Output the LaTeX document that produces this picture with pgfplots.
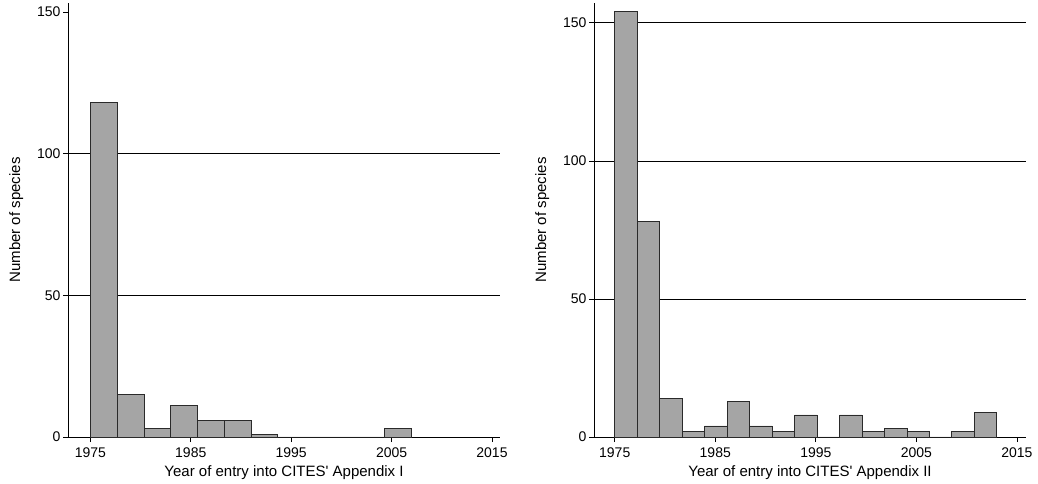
\documentclass[border=0pt]{standalone}
\usepackage{pgfplots}
\pgfplotsset{compat=1.18}
\usepackage{fontspec}
\setmainfont{Liberation Sans}

\definecolor{barfill}{HTML}{A5A5A5}
\definecolor{baredge}{HTML}{2A2A2A}

% Histogram bins: Appendix I uses 12 bins of 32/12 years, Appendix II 17 bins of 38/17 years, both from 1975
\pgfplotstableread{
x count
1975.0000 118
1977.6667 15
1980.3333 3
1983.0000 11
1985.6667 6
1988.3333 6
1991.0000 1
1993.6667 0
1996.3333 0
1999.0000 0
2001.6667 0
2004.3333 3
2007.0000 0
}\appI

\pgfplotstableread{
x count
1975.0000 154
1977.2353 78
1979.4706 14
1981.7059 2
1983.9412 4
1986.1765 13
1988.4118 4
1990.6471 2
1992.8824 8
1995.1176 0
1997.3529 8
1999.5882 2
2001.8235 3
2004.0588 2
2006.2941 0
2008.5294 2
2010.7647 9
2013.0000 0
}\appII

\pgfplotsset{
  histstyle/.style={
    scale only axis,
    width=432bp, height=434bp,
    axis lines*=left,
    axis line style={black, line width=0.8bp, -},
    tick align=outside,
    major tick length=5bp,
    tick style={black, line width=0.8bp},
    xtick={1975,1985,1995,2005,2015},
    xticklabel style={/pgf/number format/1000 sep={}},
    /pgf/number format/assume math mode=true,
    ytick={0,50,100,150},
    yticklabel style={xshift=1bp},
    xticklabel style={yshift=-2bp},
    ymajorgrids=false,
    every tick label/.append style={font=\fontsize{14bp}{16bp}\selectfont},
    label style={font=\fontsize{15bp}{17bp}\selectfont},
    ylabel={Number of species},
    ylabel style={yshift=7bp},
    xlabel style={yshift=-1bp},
    clip=false,
  },
  histbars/.style={
    ybar interval, fill=barfill, draw=baredge, line width=0.8bp,
  },
}

\begin{document}
\begin{tikzpicture}
\useasboundingbox (-68bp,-47bp) rectangle (970bp,437bp);

% Appendix I
\begin{axis}[histstyle,
  at={(0,0)}, anchor=origin,
  xmin=1972.77, xmax=2015.8, ymin=0, ymax=153.2,
  xlabel={Year of entry into CITES\textquotesingle\ Appendix I},
]
\draw[black, line width=0.8bp] (axis cs:1972.77,50) -- (axis cs:2015.8,50);
\draw[black, line width=0.8bp] (axis cs:1972.77,100) -- (axis cs:2015.8,100);
\addplot[histbars] table[x=x, y=count] {\appI};
\end{axis}

% Appendix II
\begin{axis}[histstyle,
  at={(526bp,0)}, anchor=origin,
  xmin=1972.94, xmax=2015.9, ymin=0, ymax=157.2,
  xlabel={Year of entry into CITES\textquotesingle\ Appendix II},
]
\draw[black, line width=0.8bp] (axis cs:1972.94,50) -- (axis cs:2015.9,50);
\draw[black, line width=0.8bp] (axis cs:1972.94,100) -- (axis cs:2015.9,100);
\draw[black, line width=0.8bp] (axis cs:1972.94,150) -- (axis cs:2015.9,150);
\addplot[histbars] table[x=x, y=count] {\appII};
\end{axis}
\end{tikzpicture}
\end{document}
